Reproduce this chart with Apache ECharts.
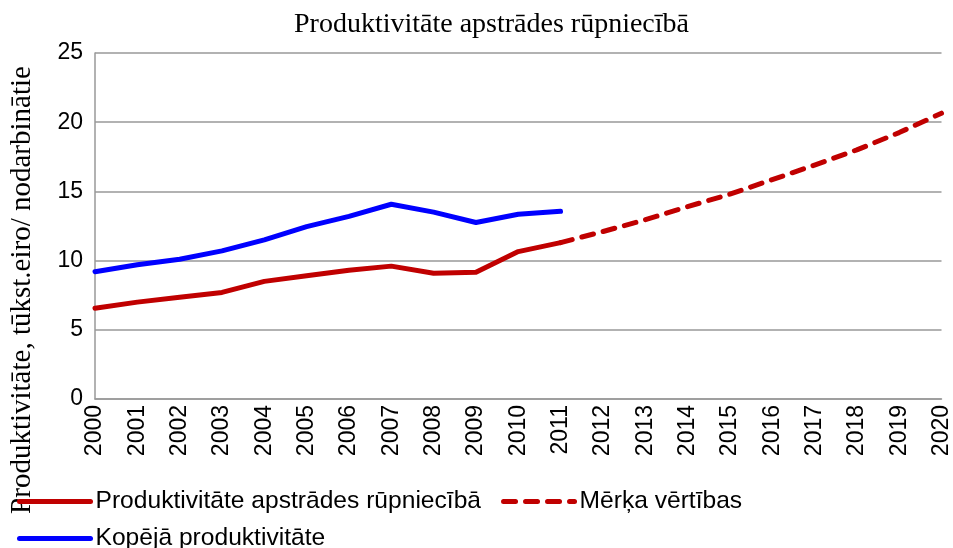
<!DOCTYPE html>
<html>
<head>
<meta charset="utf-8">
<script src="https://cdn.jsdelivr.net/npm/echarts@6/dist/echarts.min.js"></script>
<style>
  html, body { margin: 0; padding: 0; background: #fff; }
  #chart { width: 953px; height: 548px; }
</style>
</head>
<body>
<div id="chart"></div>
<script>
var years = ['2000', '2001', '2002', '2003', '2004', '2005', '2006', '2007', '2008', '2009', '2010',
  '2011', '2012', '2013', '2014', '2015', '2016', '2017', '2018', '2019', '2020'];
// apstrādes rūpniecība, faktiskie dati
var manufacturing = [6.55, 7.0, 7.35, 7.7, 8.5, 8.9, 9.3, 9.6, 9.08, 9.15, 10.65, 11.3];
// kopējā produktivitāte
var total = [9.2, 9.7, 10.1, 10.7, 11.5, 12.45, 13.2, 14.07, 13.5, 12.75, 13.35, 13.56];
// mērķa vērtības 2011-2020
var target = [null, null, null, null, null, null, null, null, null, null, null,
  11.3, 12.1, 12.95, 13.9, 14.8, 15.85, 16.9, 18.0, 19.25, 20.65];
var yTicks = [0, 5, 10, 15, 20, 25];

var chart = echarts.init(document.getElementById('chart'));
var gridColor = '#999999';
var legendText = { fontFamily: 'Liberation Sans', fontSize: 24.6, color: '#000' };

var option = {
  backgroundColor: '#ffffff',
  animation: false,
  title: {
    text: 'Produktivitāte apstrādes rūpniecībā',
    left: 289,
    top: 6,
    textStyle: {
      fontFamily: 'Liberation Serif',
      fontSize: 28,
      fontWeight: 'normal',
      color: '#000'
    }
  },
  grid: { left: 95, right: 11, top: 53, bottom: 149 },
  legend: [{
    left: 17,
    top: 489,
    padding: 0,
    itemWidth: 71,
    itemHeight: 8,
    itemGap: 20,
    itemStyle: { opacity: 0 },
    lineStyle: { width: 5 },
    textStyle: legendText,
    data: [
      { name: 'Produktivitāte apstrādes rūpniecībā' },
      { name: 'Mērķa vērtības', lineStyle: { width: 5, type: [12, 10], cap: 'round' } }
    ]
  }, {
    left: 17,
    top: 526,
    padding: 0,
    itemWidth: 71,
    itemHeight: 8,
    itemStyle: { opacity: 0 },
    lineStyle: { width: 5 },
    textStyle: legendText,
    data: ['Kopējā produktivitāte']
  }],
  graphic: [{
    type: 'text',
    x: 22,
    y: 290,
    rotation: Math.PI / 2,
    style: {
      text: 'Produktivitāte, tūkst.eiro/ nodarbinātie',
      fontFamily: 'Liberation Serif',
      fontSize: 29,
      fill: '#000',
      align: 'center',
      verticalAlign: 'middle'
    }
  }],
  xAxis: {
    type: 'category',
    data: years,
    boundaryGap: false,
    axisLine: { lineStyle: { color: gridColor, width: 1.5 } },
    axisTick: { show: false },
    axisLabel: {
      rotate: 90,
      interval: 0,
      margin: 6,
      fontFamily: 'Liberation Sans',
      fontSize: 23,
      color: '#000'
    }
  },
  yAxis: {
    type: 'value',
    min: yTicks[0],
    max: yTicks[yTicks.length - 1],
    interval: 5,
    axisLine: { show: true, lineStyle: { color: gridColor, width: 1.5 } },
    axisTick: { show: false },
    splitLine: { lineStyle: { color: gridColor, width: 1.5 } },
    axisLabel: {
      margin: 12,
      fontFamily: 'Liberation Sans',
      fontSize: 23,
      color: '#000'
    }
  },
  series: [{
    name: 'Produktivitāte apstrādes rūpniecībā',
    type: 'line',
    data: manufacturing,
    symbol: 'none',
    lineStyle: { color: '#C00000', width: 5, cap: 'round', join: 'round' },
    itemStyle: { color: '#C00000' }
  }, {
    name: 'Mērķa vērtības',
    type: 'line',
    data: target,
    symbol: 'none',
    lineStyle: { color: '#C00000', width: 5, type: [12, 10], cap: 'round', join: 'round' },
    itemStyle: { color: '#C00000' }
  }, {
    name: 'Kopējā produktivitāte',
    type: 'line',
    data: total,
    symbol: 'none',
    lineStyle: { color: '#0000FF', width: 5, cap: 'round', join: 'round' },
    itemStyle: { color: '#0000FF' }
  }]
};

chart.setOption(option);
</script>
</body>
</html>
